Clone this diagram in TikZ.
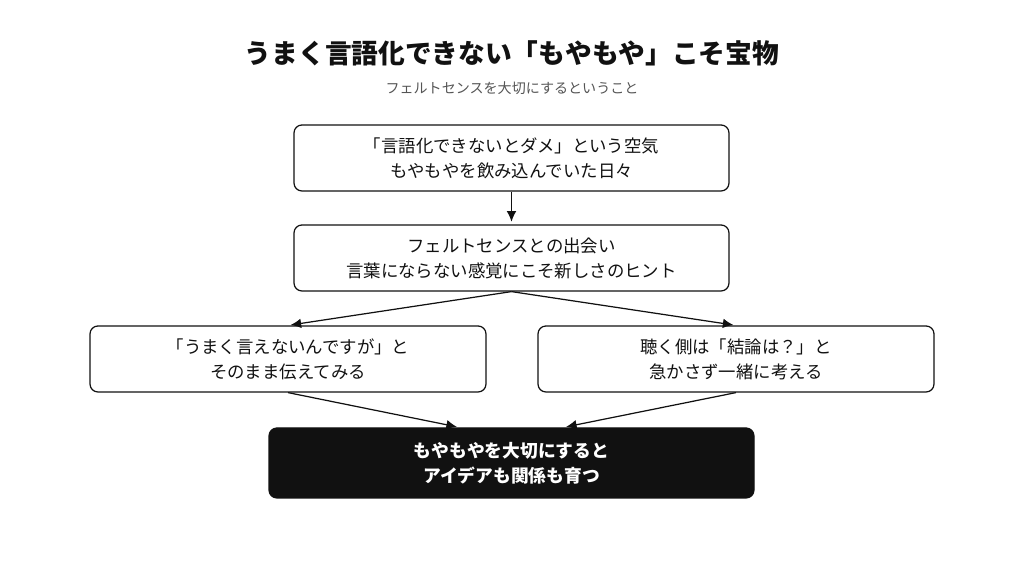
\documentclass[tikz,border=0pt]{standalone}
\usepackage{fontspec}
\setmainfont{Noto Sans CJK JP}
\usetikzlibrary{arrows.meta}
\definecolor{inkblack}{HTML}{111111}
\definecolor{subgray}{HTML}{555555}

\begin{document}
\begin{tikzpicture} [scale = 1,
  stepbox/.style = {draw = inkblack, line width = 0.7pt, rounded corners = 4.5pt, fill = white,
    text = inkblack, align = center, font = \fontsize{9.9pt}{14.2pt}\selectfont,
    minimum width = 8.7cm, minimum height = 1.32cm, inner sep = 0pt},
  flow/.style = {draw = inkblack, line width = 0.7pt, -{Latex[length = 6pt, width = 5.5pt]}, shorten > = 1.5pt}]
\useasboundingbox (0.0, 0.0) rectangle (20.48, 11.52);
\node[font = \fontsize{15.2pt}{18pt}\selectfont\bfseries, text = inkblack] (title) at (10.24, 10.46){うまく言語化できない「もやもや」こそ宝物};
\node[font = \fontsize{8pt}{10pt}\selectfont, text = subgray] (subtitle) at (10.24, 9.76){フェルトセンスを大切にするということ};
\node[stepbox] (air) at (10.23, 8.36){「言語化できないとダメ」という空気\\もやもやを飲み込んでいた日々};
\node[stepbox] (felt) at (10.23, 6.36){フェルトセンスとの出会い\\言葉にならない感覚にこそ新しさのヒント};
\node[stepbox, minimum width = 7.92cm] (speak) at (5.76, 4.34){「うまく言えないんですが」と\\そのまま伝えてみる};
\node[stepbox, minimum width = 7.92cm] (listen) at (14.72, 4.34){聴く側は「結論は？」と\\急かさず一緒に考える};
\node[stepbox, minimum width = 9.7cm, minimum height = 1.4cm, fill = inkblack,
  text = white, font = \fontsize{10.1pt}{14.2pt}\selectfont\bfseries] (grow) at (10.23, 2.26){もやもやを大切にすると\\アイデアも関係も育つ};
\draw[flow] (air.south) -- (felt.north);
\draw[flow] (felt.south) -- (speak.north);
\draw[flow] (felt.south) -- (listen.north);
\draw[flow] (speak.south) -- ([xshift = -1.04cm]grow.north);
\draw[flow] (listen.south) -- ([xshift = 1.04cm]grow.north);
\end{tikzpicture}
\end{document}
